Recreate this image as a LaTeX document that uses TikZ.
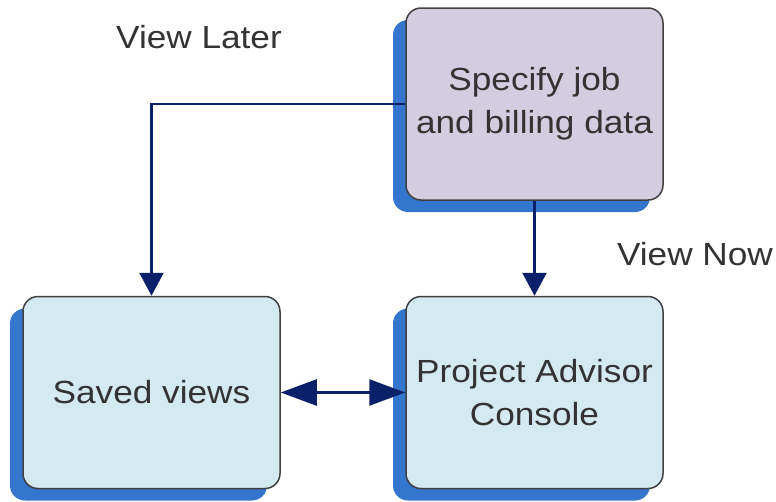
\documentclass[tikz,border=0pt]{standalone}
\usepackage{fontspec}
\setmainfont{Liberation Sans}[FakeStretch=1.1]
\usetikzlibrary{positioning}
\usetikzlibrary{arrows.meta,shadows}

\definecolor{shadowblue}{RGB}{52,117,205}
\definecolor{flowblue}{RGB}{10,32,104}
\definecolor{lilac}{RGB}{212,204,224}
\definecolor{paleblue}{RGB}{211,234,240}
\definecolor{textgray}{RGB}{51,51,51}

\begin{document}
\begin{tikzpicture}[x=1pt,y=-1pt,every node/.style={text=textgray,font=\fontsize{32}{43}\selectfont},on grid]

	\tikzstyle{task}=[rectangle,rounded corners=15pt,draw=black!75,line width=1.5pt,
	fill=lilac,minimum width=257pt,minimum height=192pt,inner sep=0pt,align=center,
	drop shadow={shadow xshift=-13pt,shadow yshift=-12pt,fill=shadowblue,opacity=1}]
	\tikzstyle{view box}=[task,fill=paleblue]
	\tikzstyle{flow}=[draw=flowblue,line width=2.5pt]

	\useasboundingbox (0,0) rectangle (776,501);

	% Boxes:
	\node [task] at (534.5,104) (spec) {Specify job\\and billing data};
	\node [view box,node distance=288.5pt] (console) [below of=spec] {Project Advisor\\Console};
	\node [view box,node distance=383pt] (saved) [left of=console] {Saved views};

	% Labels:
	\node [anchor=base] at (199,48) (later) {View Later};
	\node [anchor=base] at (695,265) (now) {View Now};

	% Arrows:
	\draw[flow,-{Triangle[length=23pt,width=24pt]}] (spec.west) -| (saved.north);
	\draw[flow,-{Triangle[length=23pt,width=24pt]}] (spec.south) -- (console.north);
	\draw[flow,{Triangle[length=36pt,width=26pt]}-{Triangle[length=36pt,width=26pt]}] (saved.east) -- (console.west);

\end{tikzpicture}
\end{document}
